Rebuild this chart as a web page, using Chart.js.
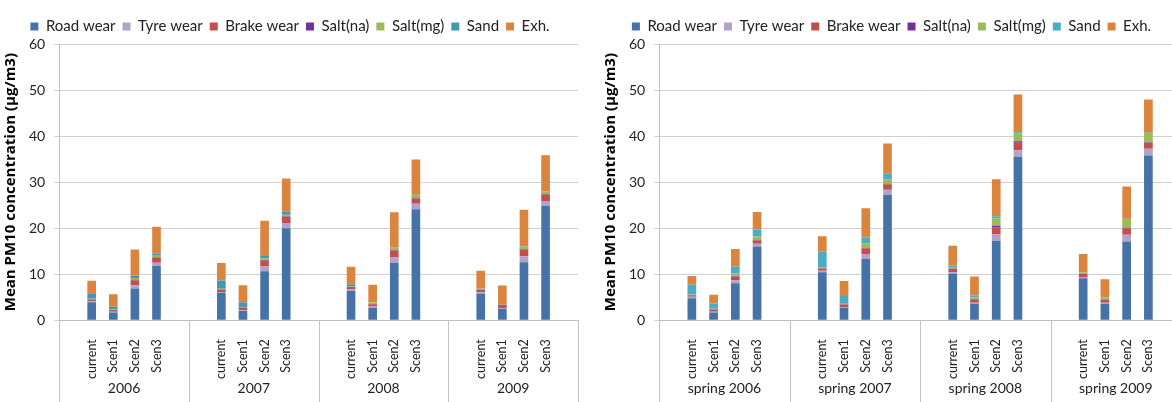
<!DOCTYPE html>
<html>
<head>
<meta charset="utf-8">
<script src="https://cdn.jsdelivr.net/npm/chart.js@4.4.0/dist/chart.umd.min.js"></script>
<style>
  body { margin: 0; background: #fff; }
  #wrap { position: relative; width: 1172px; height: 402px; overflow: hidden; }
  #leftBox { position: absolute; left: 0; top: 0; width: 600px; height: 402px; }
  #rightBox { position: absolute; left: 600px; top: 0; width: 572px; height: 402px; overflow: hidden; }
</style>
</head>
<body>
<div id="wrap">
  <div id="leftBox"><canvas id="canvasYear" width="600" height="402"></canvas></div>
  <div id="rightBox"><canvas id="canvasSpring" width="600" height="402"></canvas></div>
</div>
<script>
//labels
var scenarios = ['current', 'Scen1', 'Scen2', 'Scen3'];
var years = ['2006', '2007', '2008', '2009'];
var springs = ['spring 2006', 'spring 2007', 'spring 2008', 'spring 2009'];
var seriesNames = ['Road wear', 'Tyre wear', 'Brake wear', 'Salt(na)', 'Salt(mg)', 'Sand', 'Exh.'];

//yearly means, 4 scenarios per year (current, Scen1, Scen2, Scen3)
var yearRoad   = [3.9, 1.7, 6.9, 11.8,  5.95, 2.0, 10.65, 20.0,  6.4, 2.7, 12.5, 24.1,  5.8, 2.45, 12.6, 24.8];
var yearTyre   = [0.2, 0.15, 0.7, 0.7,  0.2, 0.15, 1.0, 1.1,  0.3, 0.3, 1.15, 1.2,  0.3, 0.2, 1.3, 1.1];
var yearBrake  = [0.4, 0.35, 1.1, 1.1,  0.55, 0.55, 1.4, 1.4,  0.55, 0.5, 1.5, 1.15,  0.55, 0.65, 1.5, 1.45];
var yearSaltNa = [0.05, 0.05, 0.1, 0.1,  0.05, 0.05, 0.1, 0.1,  0.05, 0.05, 0.1, 0.15,  0.05, 0.05, 0.1, 0.1];
var yearSaltMg = [0.1, 0.1, 0.4, 0.3,  0.1, 0.1, 0.3, 0.3,  0.1, 0.3, 0.5, 0.6,  0.15, 0.1, 0.5, 0.5];
var yearSand   = [1.2, 0.6, 0.45, 0.5,  1.8, 1.05, 0.65, 0.65,  0.4, 0.05, 0.1, 0.1,  0.05, 0.05, 0.1, 0.1];
var yearExh    = [2.75, 2.7, 5.7, 5.8,  3.8, 3.7, 7.5, 7.25,  3.8, 3.8, 7.6, 7.6,  3.85, 4.05, 7.9, 7.8];

//spring means
var springRoad   = [4.8, 1.67, 8.05, 16.0,  10.4, 2.7, 13.3, 27.25,  10.15, 3.6, 17.2, 35.5,  9.1, 3.6, 17.1, 35.8];
var springTyre   = [0.3, 0.2, 0.65, 0.6,  0.35, 0.2, 1.0, 1.1,  0.3, 0.2, 1.5, 1.45,  0.3, 0.2, 1.45, 1.45];
var springBrake  = [0.35, 0.45, 0.7, 0.8,  0.5, 0.5, 1.3, 1.2,  0.7, 0.7, 1.5, 1.6,  0.65, 0.65, 1.45, 1.3];
var springSaltNa = [0.05, 0.05, 0.1, 0.1,  0.05, 0.05, 0.1, 0.1,  0.05, 0.1, 0.35, 0.35,  0.05, 0.05, 0.1, 0.1];
var springSaltMg = [0.1, 0.15, 0.7, 0.7,  0.1, 0.3, 1.0, 1.0,  0.2, 0.4, 1.6, 1.6,  0.35, 0.5, 1.9, 2.0];
var springSand   = [2.1, 1.1, 1.5, 1.5,  3.5, 1.5, 1.3, 1.15,  0.5, 0.4, 0.45, 0.35,  0.05, 0.05, 0.05, 0.05];
var springExh    = [1.9, 1.9, 3.8, 3.8,  3.35, 3.25, 6.3, 6.6,  4.3, 4.1, 8.0, 8.2,  3.9, 3.85, 7.0, 7.25];

var FONT = 'Lato';
var TITLE_FONT = '"Open Sans"';

//each group gets an empty slot on both sides, like the blank rows in the sheet
function padGroups(values, blank) {
  var out = [];
  for (var g = 0; g < values.length / 4; g++) {
    out.push(blank);
    for (var s = 0; s < 4; s++) {
      out.push(values[g * 4 + s]);
    }
    out.push(blank);
  }
  return out;
}

//second row of the category axis: separators and group names
var groupAxis = {
  id: 'groupAxis',
  afterDraw: function (chart) {
    var groups = chart.options.plugins.groupAxis.labels;
    if (!groups) return;
    var ctx = chart.ctx;
    var x = chart.scales.x;
    var per = chart.data.labels.length / groups.length;
    var slot = (x.right - x.left) / chart.data.labels.length;
    ctx.save();
    ctx.strokeStyle = '#c3c3c3';
    ctx.lineWidth = 1;
    for (var g = 0; g <= groups.length; g++) {
      var px = Math.round(x.left + g * per * slot) + 0.5;
      ctx.beginPath();
      ctx.moveTo(px, x.top);
      ctx.lineTo(px, chart.height);
      ctx.stroke();
    }
    ctx.fillStyle = '#222';
    ctx.font = '14px ' + FONT;
    ctx.textAlign = 'center';
    ctx.textBaseline = 'middle';
    groups.forEach(function (name, g) {
      ctx.fillText(name, x.left + (g + 0.5) * per * slot, chart.options.plugins.groupAxis.y);
    });
    ctx.restore();
  }
};

function drawChart(canvasId, groups, values, colors, padRight) {
  var labels = [];
  groups.forEach(function () {
    labels = labels.concat([''], scenarios, ['']);
  });

  var datasets = seriesNames.map(function (name, i) {
    return {
      label: name,
      data: padGroups(values[i], null),
      backgroundColor: colors[i],
      borderWidth: 0,
      barPercentage: 0.4,
      categoryPercentage: 1
    };
  });

  var options = {
    responsive: false,
    animation: false,
    layout: { padding: { left: 2, right: padRight, top: 12, bottom: 12 } },
    plugins: {
      legend: {
        position: 'top',
        labels: {
          boxWidth: 8,
          boxHeight: 8,
          padding: 7,
          color: '#222',
          font: { family: FONT, size: 15 }
        }
      },
      tooltip: { enabled: false },
      groupAxis: { labels: groups, y: 388 }
    },
    scales: {
      x: {
        stacked: true,
        grid: { display: false },
        border: { color: '#bfbfbf' },
        ticks: {
          autoSkip: false,
          minRotation: 90,
          maxRotation: 90,
          padding: 11,
          color: '#222',
          font: { family: FONT, size: 12.5 }
        }
      },
      y: {
        stacked: true,
        min: 0,
        max: 60,
        ticks: {
          stepSize: 10,
          padding: 9,
          color: '#222',
          font: { family: FONT, size: 14 }
        },
        grid: { color: '#d0d0d0', tickLength: 5 },
        border: { color: '#bfbfbf' },
        title: {
          display: true,
          text: 'Mean PM10 concentration (µg/m3)',
          color: '#000',
          padding: 0,
          font: { family: TITLE_FONT, size: 15, weight: 'bold' }
        }
      }
    }
  };

  return new Chart(document.getElementById(canvasId), {
    type: 'bar',
    data: { labels: labels, datasets: datasets },
    options: options,
    plugins: [groupAxis]
  });
}

//draw the yearly chart
drawChart('canvasYear', years,
  [yearRoad, yearTyre, yearBrake, yearSaltNa, yearSaltMg, yearSand, yearExh],
  ['#4572A7', '#B3A2C7', '#C0504D', '#7030A0', '#9BBB59', '#4198AF', '#DB843D'], 22);

//draw the spring chart
drawChart('canvasSpring', springs,
  [springRoad, springTyre, springBrake, springSaltNa, springSaltMg, springSand, springExh],
  ['#4572A7', '#B3A2C7', '#C0504D', '#7030A0', '#9BBB59', '#4BACC6', '#DB843D'], 19);
</script>
</body>
</html>
